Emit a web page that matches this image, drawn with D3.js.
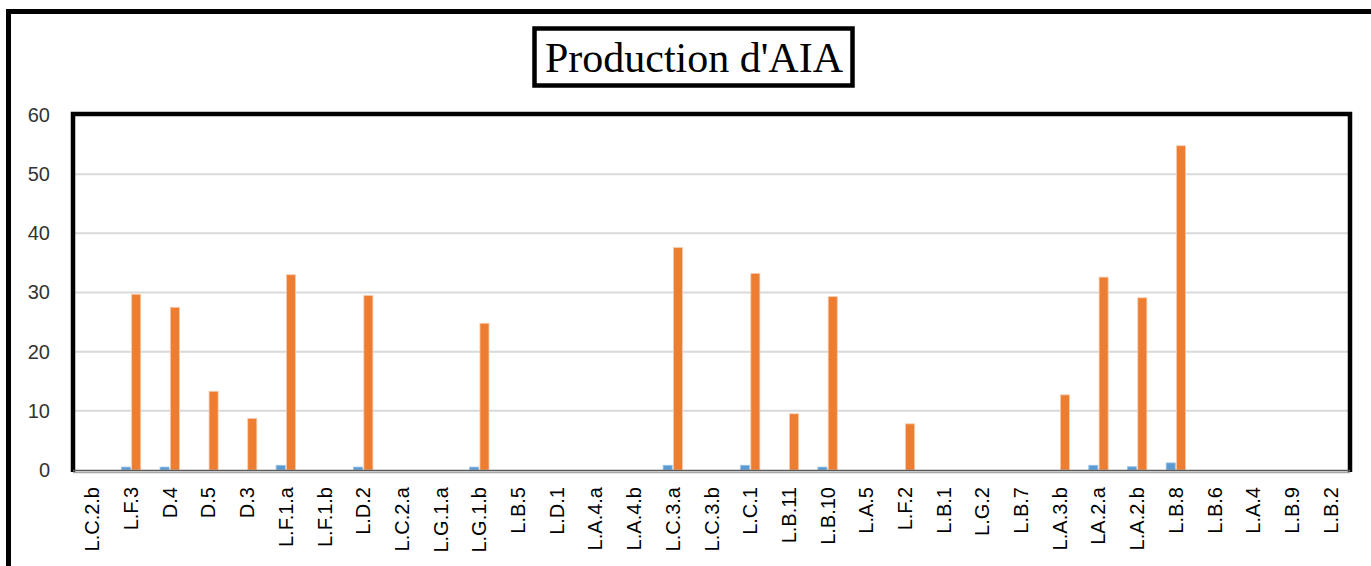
<!DOCTYPE html>
<html>
<head>
<meta charset="utf-8">
<script src="https://cdn.jsdelivr.net/npm/d3@7"></script>
<style>
  html, body { margin: 0; padding: 0; background: #fff; }
  svg { display: block; }
</style>
</head>
<body>
<svg id="chart" width="1371" height="566"></svg>
<script>
// Strains on the x axis
const categories = ["L.C.2.b","L.F.3","D.4","D.5","D.3","L.F.1.a","L.F.1.b","L.D.2","L.C.2.a","L.G.1.a","L.G.1.b","L.B.5","L.D.1","L.A.4.a","L.A.4.b","L.C.3.a","L.C.3.b","L.C.1","L.B.11","L.B.10","L.A.5","L.F.2","L.B.1","L.G.2","L.B.7","L.A.3.b","LA.2.a","L.A.2.b","L.B.8","L.B.6","L.A.4","L.B.9","L.B.2"];

// First series (blue)
const seriesBlue = [0,0.5,0.5,0,0,0.8,0,0.5,0,0,0.5,0,0,0,0,0.8,0,0.8,0,0.5,0,0,0,0,0,0,0.8,0.55,1.2,0,0,0,0];

// Second series (orange): AIA production
const seriesOrange = [0,29.7,27.5,13.3,8.7,33.0,0,29.5,0,0,24.8,0,0,0,0,37.6,0,33.2,9.5,29.3,0,7.8,0,0,0,12.7,32.6,29.1,54.8,0,0,0,0];

const yTicks = [0,10,20,30,40,50,60];
const titleText = "Production d'AIA";

const svg = d3.select("#chart");

// Outer frame
svg.append("rect")
  .attr("x", 8.5).attr("y", 11.5)
  .attr("width", 1400).attr("height", 600)
  .attr("fill", "none").attr("stroke", "#000").attr("stroke-width", 5);

// Title box
svg.append("rect")
  .attr("x", 534.5).attr("y", 28.5)
  .attr("width", 318).attr("height", 57)
  .attr("fill", "#fff").attr("stroke", "#000").attr("stroke-width", 4.5);
svg.append("text")
  .attr("x", 694).attr("y", 72)
  .attr("text-anchor", "middle")
  .attr("font-family", "'Liberation Serif', 'Times New Roman', serif")
  .attr("font-size", 42)
  .attr("fill", "#000")
  .text(titleText);

// Plot area
const plotLeft = 73, plotRight = 1350, plotTop = 115, plotBottom = 470;

const x = d3.scaleBand().domain(categories).range([plotLeft, plotRight]).paddingInner(0.5).paddingOuter(0.25);
const xSub = d3.scaleBand().domain(["blue","orange"]).range([0, x.bandwidth()]).paddingInner(0.12);
const y = d3.scaleLinear().domain([0, 60]).range([plotBottom, plotTop]);

// Gridlines
svg.append("g")
  .selectAll("line")
  .data(yTicks.filter(t => t > 0 && t < 60))
  .join("line")
  .attr("x1", plotLeft).attr("x2", plotRight)
  .attr("y1", d => y(d)).attr("y2", d => y(d))
  .attr("stroke", "#d9d9d9").attr("stroke-width", 2);

// Y axis labels
const yAxis = d3.axisLeft(y).tickValues(yTicks).tickSize(0).tickPadding(0);
const gy = svg.append("g").attr("transform", `translate(${plotLeft - 23},0)`).call(yAxis);
gy.select(".domain").remove();
gy.selectAll("text")
  .attr("font-family", "'Liberation Sans', Arial, sans-serif")
  .attr("font-size", 20)
  .attr("fill", "#333");

// Bars
const groups = svg.append("g")
  .selectAll("g")
  .data(categories.map((c, i) => ({ c, blue: seriesBlue[i], orange: seriesOrange[i] })))
  .join("g")
  .attr("transform", d => `translate(${x(d.c)},0)`);

groups.append("rect")
  .attr("x", xSub("blue"))
  .attr("width", xSub.bandwidth())
  .attr("y", d => y(d.blue))
  .attr("height", d => y(0) - y(d.blue))
  .attr("fill", "#5b9bd5")
  .attr("stroke", "#9dc3e6").attr("stroke-width", 0.8);

groups.append("rect")
  .attr("x", xSub("orange"))
  .attr("width", xSub.bandwidth())
  .attr("y", d => y(d.orange))
  .attr("height", d => y(0) - y(d.orange))
  .attr("fill", "#ed7d31")
  .attr("stroke", "#f8cbad").attr("stroke-width", 0.8);

// Plot border (left, top, right) and category axis line
svg.append("path")
  .attr("d", `M${plotLeft},${plotBottom + 2} V${plotTop - 1} H${plotRight} V${plotBottom + 2}`)
  .attr("fill", "none").attr("stroke", "#000").attr("stroke-width", 4.5);
svg.append("line")
  .attr("x1", plotLeft).attr("x2", plotRight)
  .attr("y1", plotBottom + 0.5).attr("y2", plotBottom + 0.5)
  .attr("stroke", "#595959").attr("stroke-width", 1.5);
svg.append("line")
  .attr("x1", plotLeft).attr("x2", plotRight)
  .attr("y1", plotBottom + 2.5).attr("y2", plotBottom + 2.5)
  .attr("stroke", "#a6a6a6").attr("stroke-width", 1.5);

// X axis labels, rotated
const xAxis = d3.axisBottom(x).tickSize(0).tickPadding(0);
const gx = svg.append("g").attr("transform", `translate(0,${plotBottom})`).call(xAxis);
gx.select(".domain").remove();
gx.selectAll("text")
  .attr("font-family", "'Liberation Sans', Arial, sans-serif")
  .attr("font-size", 20)
  .attr("fill", "#000")
  .attr("text-anchor", "end")
  .attr("dy", "0.35em")
  .attr("transform", "translate(0,17) rotate(-90)")
  .attr("x", 0).attr("y", 0);
</script>
</body>
</html>
